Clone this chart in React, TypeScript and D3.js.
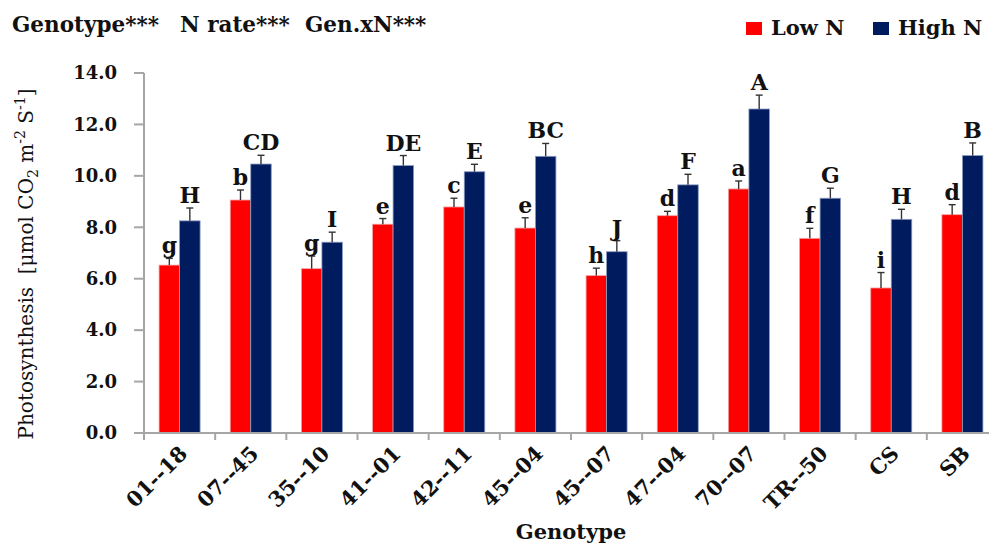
import React from "react";
import * as d3 from "d3";

// Net photosynthesis by genotype under two nitrogen rates
const categories = ["01--18", "07--45", "35--10", "41--01", "42--11", "45--04", "45--07", "47--04", "70--07", "TR--50", "CS", "SB"];
const seriesNames = ["Low N", "High N"];
const lowN = [6.53, 9.06, 6.39, 8.12, 8.79, 7.97, 6.12, 8.45, 9.49, 7.57, 5.64, 8.49];
const highN = [8.25, 10.46, 7.42, 10.4, 10.16, 10.76, 7.05, 9.65, 12.6, 9.13, 8.31, 10.79];
const lowErr = [0.26, 0.39, 0.49, 0.22, 0.34, 0.4, 0.29, 0.17, 0.31, 0.39, 0.6, 0.39];
const highErr = [0.5, 0.34, 0.39, 0.39, 0.29, 0.5, 0.43, 0.41, 0.54, 0.39, 0.39, 0.49];
const lowLetters = ["g", "b", "g", "e", "c", "e", "h", "d", "a", "f", "i", "d"];
const highLetters = ["H", "CD", "I", "DE", "E", "BC", "J", "F", "A", "G", "H", "B"];
const yTicks = [0, 2, 4, 6, 8, 10, 12, 14];
const significance = ["Genotype***", "N rate***", "Gen.xN***"];

const W = 989;
const H = 547;
const plot = { left: 144, right: 998, top: 73, bottom: 433 };
const COLORS = ["#ff0000", "#001c5f"];
const EDGE = ["#f4a0a0", "#8c9cc0"];
const AXIS = "#a6a6a6";
const FONT = "'DejaVu Serif', serif";

export default function App() {
  const x0 = d3.scaleBand<string>().domain(categories).range([plot.left, plot.right]).padding(0);
  const x1 = d3
    .scaleBand<string>()
    .domain(seriesNames)
    .range([0, x0.bandwidth()])
    .paddingInner(0)
    .paddingOuter(0.735);
  const y = d3.scaleLinear().domain([0, 14]).range([plot.bottom, plot.top]);

  const series = [
    { name: seriesNames[0], values: lowN, err: lowErr, letters: lowLetters },
    { name: seriesNames[1], values: highN, err: highErr, letters: highLetters },
  ];

  const sigX = [12, 180, 305];

  return (
    <svg
      width={W}
      height={H}
      viewBox={`0 0 ${W} ${H}`}
      style={{ position: "absolute", left: 0, top: 0, background: "#fff" }}
      fontFamily={FONT}
    >
      {/* significance header */}
      {significance.map((s, i) => (
        <text key={s} x={sigX[i]} y={32} fontSize={21.5} fontWeight="bold" fill="#111">
          {s}
        </text>
      ))}

      {/* legend */}
      {seriesNames.map((name, i) => {
        const lx = i === 0 ? 746 : 873;
        return (
          <g key={name}>
            <rect x={lx} y={22} width={16} height={13} fill={COLORS[i]} />
            <text x={lx + 25} y={35} fontSize={21} fontWeight="bold" fill="#111">
              {name}
            </text>
          </g>
        );
      })}

      {/* y axis */}
      <line x1={plot.left} x2={plot.left} y1={y(14)} y2={y(0)} stroke={AXIS} strokeWidth={2} />
      {yTicks.map((t) => (
        <g key={t}>
          <line x1={plot.left - 10} x2={plot.left} y1={y(t)} y2={y(t)} stroke={AXIS} strokeWidth={2} />
          <text
            x={117}
            y={y(t)}
            dy="0.35em"
            textAnchor="end"
            fontSize={18}
            fontWeight="bold"
            fill="#111"
          >
            {d3.format(".1f")(t)}
          </text>
        </g>
      ))}

      {/* bars */}
      {categories.map((c, ci) => (
        <g key={c} transform={`translate(${x0(c)},0)`}>
          {series.map((s, si) => {
            const bx = x1(s.name)!;
            const bw = x1.bandwidth();
            const v = s.values[ci];
            const top = y(v);
            const eTop = y(v + s.err[ci]);
            const cx = bx + bw / 2;
            return (
              <g key={s.name}>
                <rect
                  x={bx}
                  y={top}
                  width={bw}
                  height={y(0) - top}
                  fill={COLORS[si]}
                  stroke={EDGE[si]}
                  strokeWidth={0.8}
                />
                <line x1={cx} x2={cx} y1={top} y2={eTop} stroke="#333" strokeWidth={1.4} />
                <line x1={cx - 3.5} x2={cx + 3.5} y1={eTop} y2={eTop} stroke="#333" strokeWidth={1.4} />
                <text
                  x={cx}
                  y={eTop - 5}
                  textAnchor="middle"
                  fontSize={22}
                  fontWeight="bold"
                  fill="#111"
                >
                  {s.letters[ci]}
                </text>
              </g>
            );
          })}
        </g>
      ))}

      {/* x axis */}
      <line x1={plot.left} x2={plot.right} y1={y(0)} y2={y(0)} stroke={AXIS} strokeWidth={2} />
      {categories.map((c) => (
        <line
          key={`t-${c}`}
          x1={x0(c)!}
          x2={x0(c)!}
          y1={y(0)}
          y2={y(0) + 7}
          stroke={AXIS}
          strokeWidth={2}
        />
      ))}
      <line x1={plot.right} x2={plot.right} y1={y(0)} y2={y(0) + 7} stroke={AXIS} strokeWidth={2} />
      {categories.map((c) => {
        const cx = x0(c)! + x0.bandwidth() / 2;
        return (
          <text
            key={`l-${c}`}
            transform={`translate(${cx + 9},${y(0) + 22}) rotate(-45)`}
            textAnchor="end"
            fontSize={21}
            fontWeight="bold"
            fill="#111"
          >
            {c}
          </text>
        );
      })}

      {/* axis titles */}
      <text
        x={(plot.left + plot.right) / 2}
        y={539}
        textAnchor="middle"
        fontSize={21}
        fontWeight="bold"
        fill="#111"
      >
        Genotype
      </text>
      <text
        transform={`translate(33,264) rotate(-90)`}
        textAnchor="middle"
        fontSize={20}
        fill="#111"
      >
        Photosynthesis{"\u00a0\u00a0"}[μmol CO
        <tspan dy={5} fontSize={14}>2</tspan>
        <tspan dy={-5}> m</tspan>
        <tspan dy={-8} fontSize={14}>-2</tspan>
        <tspan dy={8}> S</tspan>
        <tspan dy={-8} fontSize={14}>-1</tspan>
        <tspan dy={8}>]</tspan>
      </text>
    </svg>
  );
}
